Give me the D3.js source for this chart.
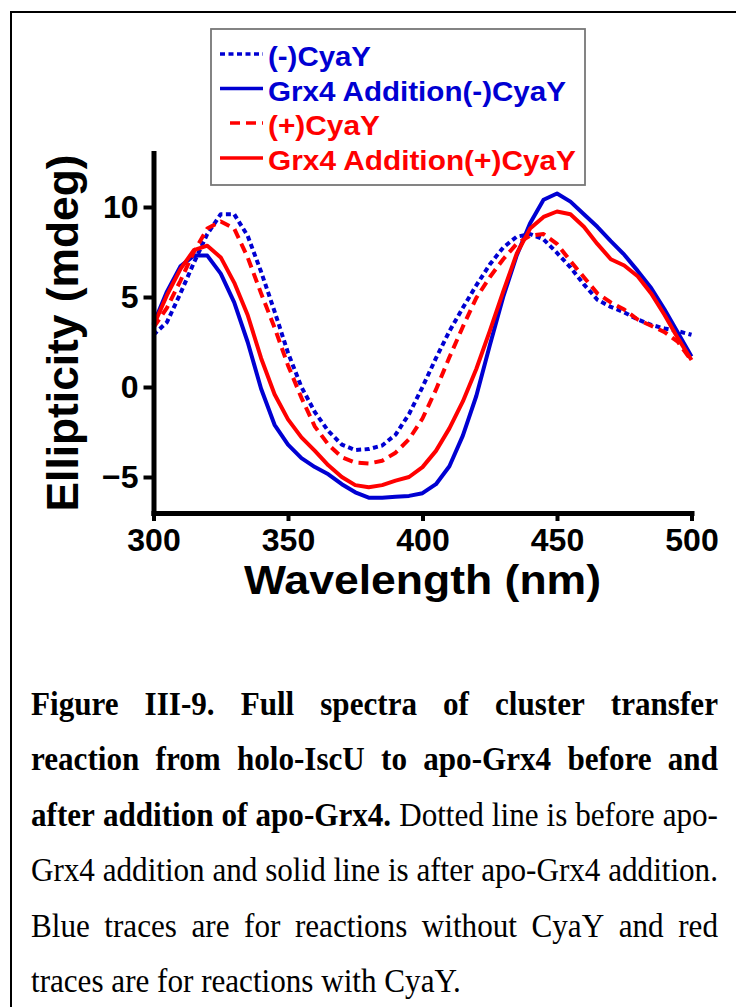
<!DOCTYPE html>
<html><head><meta charset="utf-8">
<script src="https://cdn.jsdelivr.net/npm/d3@7"></script>
<style>body{margin:0;background:#fff} svg{display:block}</style>
</head><body>
<svg id="chart" width="736" height="1007"></svg>
<script>
// ---------------- data ----------------
const wavelengths = [300,305,310,315,320,325,330,335,340,345,350,355,360,365,370,375,380,385,390,395,400,
                     405,410,415,420,425,430,435,440,445,450,455,460,465,470,475,480,485,490,495,500];
// (-)CyaY  (blue dotted)
const noCyaY = [2.9,3.6,5.2,6.9,8.5,9.6,9.6,8.4,6.4,4.2,1.9,0.0,-1.4,-2.45,-3.2,-3.5,-3.45,-3.25,-2.65,-1.5,0.0,
                1.6,3.1,4.4,5.65,6.8,7.75,8.35,8.5,8.2,7.45,6.65,5.7,4.85,4.45,4.15,3.75,3.45,3.25,3.1,2.9];
// Grx4 Addition(-)CyaY (blue solid)
const grx4NoCyaY = [3.5,5.3,6.7,7.3,7.3,6.3,4.7,2.5,-0.1,-2.1,-3.2,-3.95,-4.45,-4.85,-5.4,-5.85,-6.15,-6.15,-6.1,-6.05,-5.9,
                    -5.4,-4.4,-2.7,-0.5,2.3,5.0,7.3,9.1,10.4,10.75,10.3,9.6,8.9,8.1,7.35,6.45,5.5,4.3,3.0,1.7];
// (+)CyaY (red dashed)
const withCyaY = [3.3,4.4,5.9,7.5,8.8,9.2,8.8,7.2,5.2,3.3,1.2,-0.6,-2.2,-3.2,-3.9,-4.2,-4.25,-4.1,-3.65,-2.9,-1.75,
                  -0.15,1.65,3.35,4.95,6.1,7.1,7.95,8.4,8.5,7.95,7.0,6.1,5.2,4.7,4.3,3.75,3.4,3.05,2.5,1.45];
// Grx4 Addition(+)CyaY (red solid)
const grx4WithCyaY = [3.4,5.1,6.55,7.6,7.85,7.2,5.8,4.0,1.6,-0.4,-1.8,-2.8,-3.55,-4.35,-5.0,-5.45,-5.57,-5.45,-5.2,-5.0,-4.45,
                      -3.55,-2.3,-0.8,1.0,3.1,5.3,7.4,8.8,9.45,9.75,9.6,8.9,7.95,7.1,6.75,6.15,5.2,4.0,2.7,1.5];
const seriesNames = ["(-)CyaY","Grx4 Addition(-)CyaY","(+)CyaY","Grx4 Addition(+)CyaY"];
const xTicks = [300,350,400,450,500];
const yTicks = [-5,0,5,10];
const xTitle = "Wavelength (nm)";
const yTitle = "Ellipticity (mdeg)";
const captionBold = ["Figure III-9. Full spectra of cluster transfer",
                     "reaction from holo-IscU to apo-Grx4 before and",
                     "after addition of apo-Grx4.", "", "", ""];
const captionRegular = ["", "", " Dotted line is before apo-",
                        "Grx4 addition and solid line is after apo-Grx4 addition.",
                        "Blue traces are for reactions without CyaY and red",
                        "traces are for reactions with CyaY."];

// ---------------- styles ----------------
const BLUE = "#0000d2", RED = "#ff0000";
const styles = [
  {color: BLUE, dash: "5,3.5"},
  {color: BLUE, dash: null},
  {color: RED,  dash: "10,6"},
  {color: RED,  dash: null}
];
const seriesValues = [noCyaY, grx4NoCyaY, withCyaY, grx4WithCyaY];

const svg = d3.select("#chart");
const SANS = "'Liberation Sans', Arial, Helvetica, sans-serif";
const SERIF = "'Liberation Serif', 'Times New Roman', serif";

// frame
svg.append("rect").attr("x",11).attr("y",12).attr("width",900).attr("height",1200)
   .attr("fill","none").attr("stroke","#000").attr("stroke-width",2);

const x = d3.scaleLinear().domain([300,500]).range([153.5,691.5]);
const y = d3.scaleLinear().domain([-7,13]).range([513,153]);

// lines
const line = d3.line().x((d,i)=>x(wavelengths[i])).y(d=>y(d));
const plot = svg.append("g");
seriesValues.forEach((vals,k)=>{
  plot.append("path").datum(vals).attr("d",line)
    .attr("fill","none").attr("stroke",styles[k].color).attr("stroke-width",4)
    .attr("stroke-linejoin","round")
    .attr("stroke-dasharray",styles[k].dash);
});

// axes
const yAxis = svg.append("g").attr("transform",`translate(${x(300)},0)`)
  .call(d3.axisLeft(y).tickValues(yTicks).tickSize(10).tickSizeOuter(0).tickPadding(5).tickFormat(d3.format("d")));
const xAxis = svg.append("g").attr("transform",`translate(0,${y(-7)})`)
  .call(d3.axisBottom(x).tickValues(xTicks).tickSize(8).tickSizeOuter(0).tickPadding(7));
[xAxis,yAxis].forEach(a=>{
  a.select(".domain").attr("stroke","#000").attr("stroke-width",5).attr("stroke-linecap","square");
  a.selectAll(".tick line").attr("stroke","#000").attr("stroke-width",4);
  a.selectAll(".tick text").attr("fill","#000").style("font-family",SANS)
    .style("font-weight","bold").style("font-size","32px");
});

// axis titles
svg.append("text").attr("x",(x(300)+x(500))/2).attr("y",594)
  .attr("text-anchor","middle").style("font-family",SANS).style("font-weight","bold")
  .style("font-size","40px").attr("textLength",357).attr("lengthAdjust","spacingAndGlyphs")
  .text(xTitle);
svg.append("text").attr("transform",`translate(78,${(y(-7)+y(13))/2}) rotate(-90)`)
  .attr("text-anchor","middle").style("font-family",SANS).style("font-weight","bold")
  .style("font-size","44px").attr("textLength",357).attr("lengthAdjust","spacingAndGlyphs")
  .text(yTitle);

// legend
const lg = svg.append("g");
lg.append("rect").attr("x",211).attr("y",29).attr("width",374).attr("height",156)
  .attr("fill","#fff").attr("stroke","#777").attr("stroke-width",1.8);
const legBase = [66,100.5,135,170];
const legLen = [103,298,112,308];
const legX0 = [220,220,230,220];
seriesNames.forEach((name,k)=>{
  lg.append("line").attr("x1",legX0[k]).attr("x2",263)
    .attr("y1",legBase[k]-12).attr("y2",legBase[k]-12)
    .attr("stroke",styles[k].color).attr("stroke-width",3.5)
    .attr("stroke-dasharray",styles[k].dash);
  lg.append("text").attr("x",268).attr("y",legBase[k]).attr("fill",styles[k].color)
    .style("font-family",SANS).style("font-weight","bold").style("font-size","27px")
    .attr("textLength",legLen[k]).attr("lengthAdjust","spacingAndGlyphs").text(name);
});

// caption (justified, word-positioned, horizontally condensed like the reference)
const capLeft = 31, capRight = 718, capWidth = capRight - capLeft;
const capBase0 = 715, capStep = 55.5, fs = 33;
const meas = svg.append("text").style("font-family",SERIF);
function wordWidth(w,bold){
  meas.style("font-size",fs+"px").style("font-weight",bold?"bold":"normal").text(w);
  return meas.node().getComputedTextLength();
}
function words(i){
  const out=[];
  captionBold[i].trim().split(/\s+/).filter(s=>s).forEach(w=>out.push({w,b:true}));
  captionRegular[i].trim().split(/\s+/).filter(s=>s).forEach(w=>out.push({w,b:false}));
  return out;
}
const spaceW = wordWidth("a a",false) - 2*wordWidth("a",false);
// horizontal condensing factor: line 4 is naturally full width
let kx;
{
  const ws = words(3);
  const tot = d3.sum(ws,d=>wordWidth(d.w,d.b)) + (ws.length-1)*spaceW;
  kx = capWidth/tot;
}
const capG = svg.append("g").attr("transform",`scale(${kx},1)`);
for(let i=0;i<6;i++){
  const ws = words(i);
  ws.forEach(d=>d.width=wordWidth(d.w,d.b));
  const total = d3.sum(ws,d=>d.width);
  const justify = i<5;
  const gap = justify ? (capWidth/kx-total)/(ws.length-1) : spaceW;
  let cx = capLeft/kx;
  const t = capG.append("text").attr("y",capBase0+i*capStep).style("font-family",SERIF)
    .style("font-size",fs+"px").attr("fill","#000");
  ws.forEach(d=>{
    t.append("tspan").attr("x",cx).style("font-weight",d.b?"bold":"normal").text(d.w);
    cx += d.width + gap;
  });
}
meas.remove();
</script>
</body></html>
